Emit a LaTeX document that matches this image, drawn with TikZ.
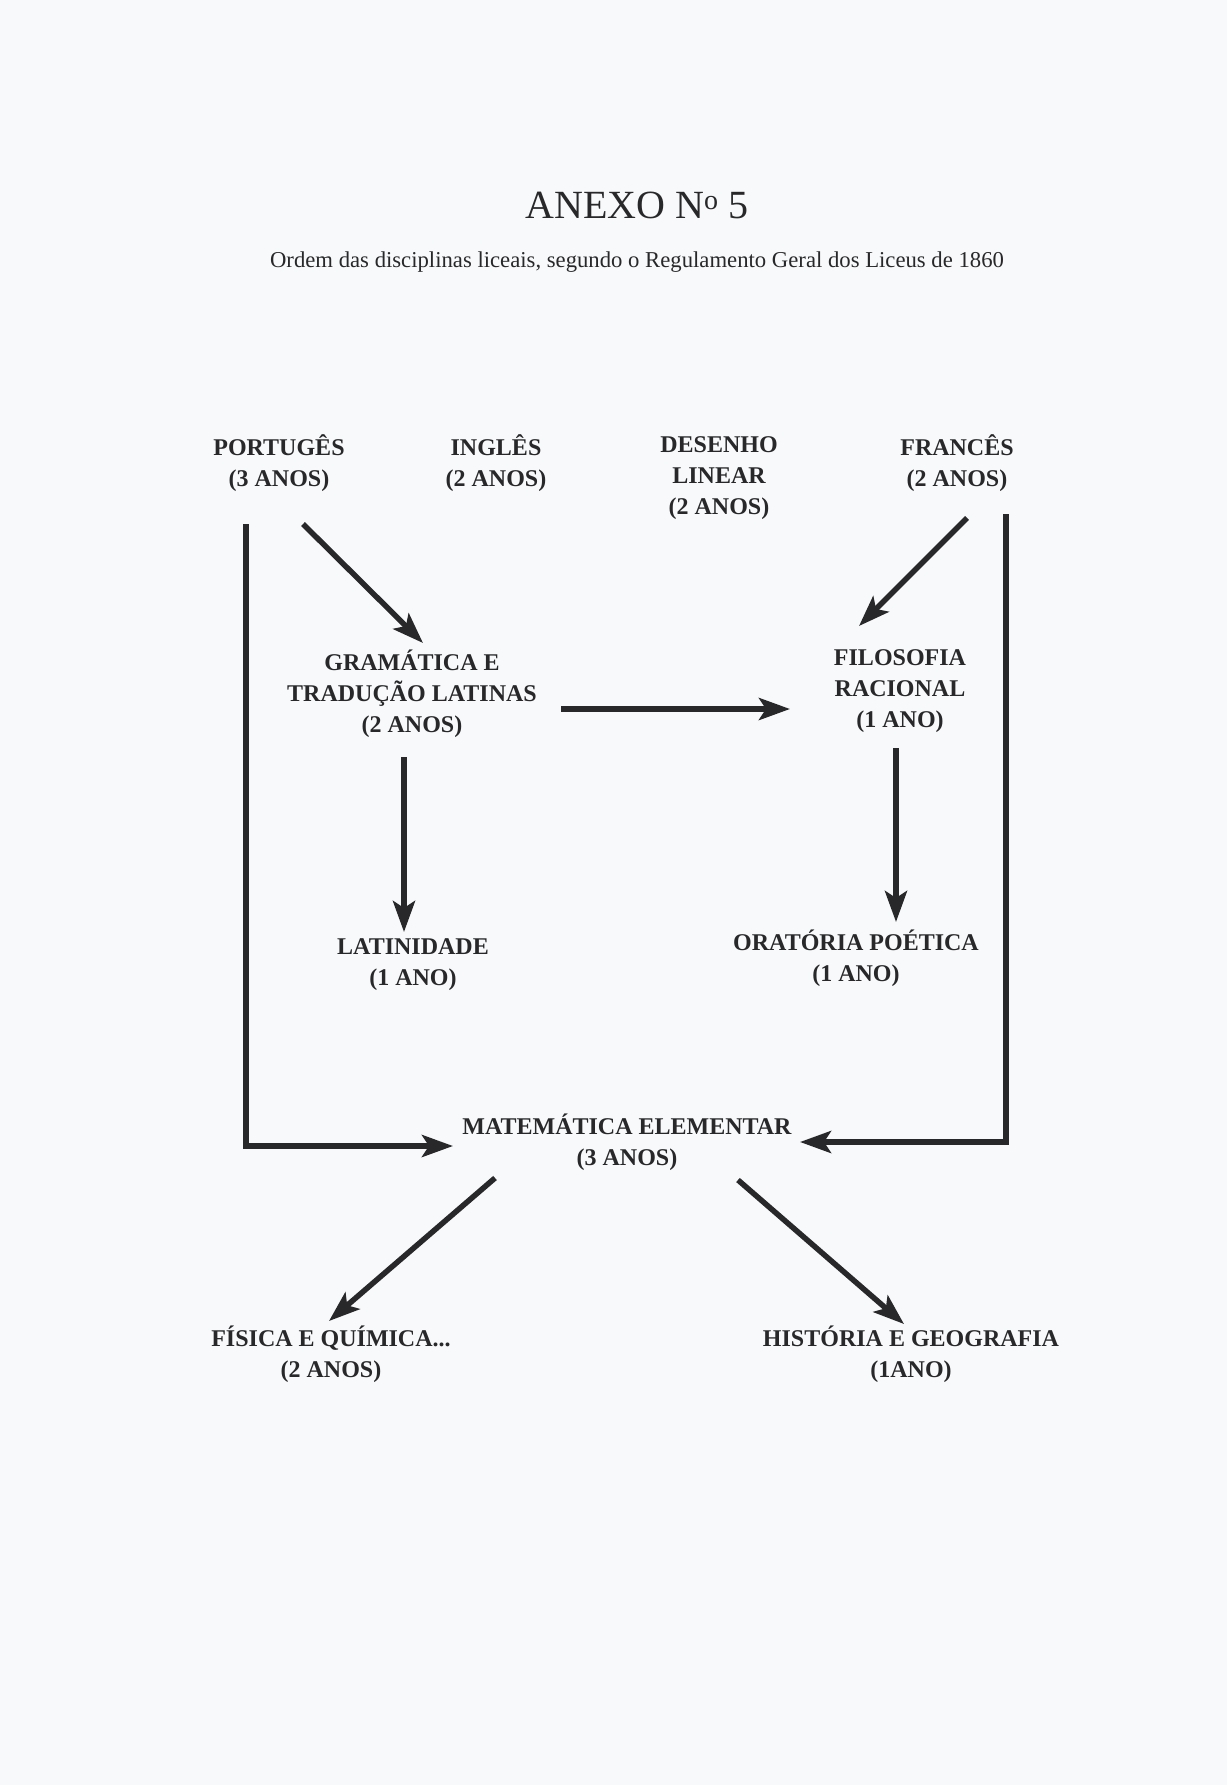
\documentclass[tikz,border=0pt]{standalone}
\usepackage{fontspec}
\setmainfont{Liberation Serif}
\usetikzlibrary{arrows.meta}
\definecolor{paper}{RGB}{248,249,250}
\definecolor{ink}{RGB}{40,40,43}
\begin{document}
\begin{tikzpicture}[x=1pt,y=-1pt,
  lbl/.style={align=center,inner sep=0pt,text=ink,font=\fontsize{24}{31}\selectfont\bfseries},
  conn/.style={draw=ink,line width=5.5pt,-{Stealth[length=31pt,width=22pt,inset=7pt]}}]
\fill[paper] (0,0) rectangle (1227,1785);
\useasboundingbox (0,0) rectangle (1227,1785);
\node[text=ink,font=\fontsize{40}{48}\selectfont] (title) at (637,205) {ANEXO N\textsuperscript{o} 5};
\node[text=ink,font=\fontsize{22.7}{27}\selectfont] (sub) at (637,262) {Ordem das disciplinas liceais, segundo o Regulamento Geral dos Liceus de 1860};
\node[lbl] (port) at (279,463) {PORTUGÊS\\(3 ANOS)};
\node[lbl] (ingl) at (496,463) {INGLÊS\\(2 ANOS)};
\node[lbl] (des) at (719,478) {DESENHO\\LINEAR\\(2 ANOS)};
\node[lbl] (fran) at (957,463) {FRANCÊS\\(2 ANOS)};
\node[lbl] (gram) at (412,694) {GRAMÁTICA E\\TRADUÇÃO LATINAS\\(2 ANOS)};
\node[lbl] (filo) at (900,691) {FILOSOFIA\\RACIONAL\\(1 ANO)};
\node[lbl] (lat) at (413,965) {LATINIDADE\\(1 ANO)};
\node[lbl] (orat) at (856,958) {ORATÓRIA POÉTICA\\(1 ANO)};
\node[lbl] (mat) at (627,1142) {MATEMÁTICA ELEMENTAR\\(3 ANOS)};
\node[lbl] (fis) at (331,1354) {FÍSICA E QUÍMICA...\\(2 ANOS)};
\node[lbl] (hist) at (911,1354) {HISTÓRIA E GEOGRAFIA\\(1ANO)};
% connector end points
\coordinate (pS) at (303,524); \coordinate (gN) at (423,643);
\coordinate (fS) at (967,518); \coordinate (fiN) at (859,626);
\coordinate (gE) at (561,709); \coordinate (fiW) at (790,709);
\coordinate (gS) at (404,757); \coordinate (lN) at (404,932);
\coordinate (fiS) at (896,748); \coordinate (oN) at (896,922);
\coordinate (lTop) at (246,524); \coordinate (lCorner) at (246,1146); \coordinate (mW) at (453,1146);
\coordinate (rTop) at (1006,514); \coordinate (rCorner) at (1006,1142); \coordinate (mE) at (800,1142);
\coordinate (mSW) at (495,1178); \coordinate (fisN) at (329,1321);
\coordinate (mSE) at (738,1180); \coordinate (hN) at (904,1324);
\draw[conn] (pS) -- (gN);
\draw[conn] (fS) -- (fiN);
\draw[conn] (gE) -- (fiW);
\draw[conn] (gS) -- (lN);
\draw[conn] (fiS) -- (oN);
\draw[conn] (lTop) -- (lCorner) -- (mW);
\draw[conn] (rTop) -- (rCorner) -- (mE);
\draw[conn] (mSW) -- (fisN);
\draw[conn] (mSE) -- (hN);
\end{tikzpicture}
\end{document}
